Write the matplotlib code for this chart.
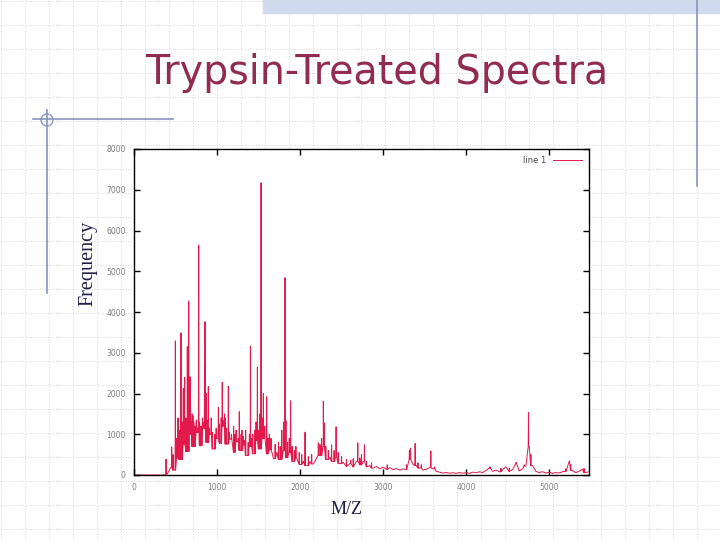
import numpy as np
import matplotlib
matplotlib.use("Agg")
import matplotlib.pyplot as plt
from matplotlib.patches import Rectangle, Circle

mz_step = 40
baseline_counts = [
    0, 0, 0, 0, 0, 0, 0, 0, 0, 0,
    20, 180, 120, 420, 380, 760, 580, 1000, 700, 1050,
    720, 1150, 800, 1000, 640, 900, 780, 1200, 760, 880,
    560, 820, 600, 740, 480, 700, 520, 850, 640, 900,
    520, 620, 400, 560, 380, 600, 430, 560, 330, 420,
    260, 340, 230, 330, 270, 420, 480, 700, 380, 440,
    330, 450, 280, 310, 210, 280, 200, 340, 250, 330,
    200, 230, 170, 210, 150, 190, 140, 180, 130, 160,
    120, 150, 130, 380, 260, 230, 170, 120, 140, 180,
    150, 90, 70, 50, 60, 45, 55, 40, 60, 45,
    55, 40, 70, 55, 80, 60, 110, 170, 90, 120,
    80, 130, 200, 90, 130, 290, 100, 150, 220, 700,
    230, 90, 60, 80, 50, 70, 40, 60, 50, 80,
    90, 330, 110, 60, 90, 140, 60, 80,
]
peak_mz = [386, 454, 498, 530, 566, 594, 610, 642, 659, 675, 700, 720,
           779, 800, 850, 855, 870, 895, 930, 1016, 1063, 1100, 1136, 1200,
           1268, 1300, 1345, 1402, 1430, 1486, 1530, 1558, 1598, 1650, 1780,
           1800, 1819, 1830, 1886, 1950, 2060, 2220, 2280, 2290, 2380, 2434,
           2610, 2695, 2775, 3317, 3330, 3386, 3575, 4289, 4602, 4751, 5244]
peak_counts = [390, 690, 3290, 1400, 3490, 2125, 2400, 3150, 4270, 2410, 1500, 1300,
               5640, 1200, 2700, 3760, 2000, 2170, 1400, 1660, 2280, 1400, 2180, 1200,
               1555, 1100, 1100, 3165, 1000, 2650, 7170, 2000, 1920, 900, 1100,
               1300, 4840, 1330, 1820, 700, 1050, 790, 1815, 1280, 740, 1185,
               370, 790, 740, 610, 660, 775, 590, 200, 310, 1530, 345]
# small spikes that make up the noisy band
minor_mz = [470, 515, 545, 580, 625, 665, 690, 710, 735, 750, 765, 790, 815, 825,
            840, 880, 910, 945, 975, 990, 1030, 1050, 1075, 1090, 1115, 1150, 1175,
            1215, 1230, 1255, 1290, 1315, 1330, 1375, 1390, 1415, 1455, 1470, 1500,
            1515, 1545, 1575, 1615, 1630, 1700, 1740, 1760, 1850, 1870, 1905, 1930,
            1990, 2020, 2100, 2140, 2240, 2260, 2310, 2340, 2410, 2460, 2500, 2560,
            2640, 2720, 2740, 2800, 2860, 3050, 3280, 3420, 3460, 3620, 4420, 4520,
            4700, 4780, 5200, 5260, 5420]
minor_counts = [500, 900, 1100, 1300, 1400, 1500, 1300, 1450, 1200, 1350, 1150, 1300,
                1200, 1400, 1300, 1350, 1150, 1050, 1000, 1150, 1250, 1400, 1350, 1500,
                1150, 1050, 1000, 1000, 1100, 900, 1000, 950, 850, 800, 1000, 900, 1100,
                1300, 1100, 1500, 1400, 1200, 900, 1000, 750, 800, 700, 800, 900, 700,
                600, 550, 500, 450, 500, 750, 900, 700, 600, 600, 550, 450, 380, 400,
                420, 500, 330, 300, 250, 250, 300, 250, 200, 160, 170, 250, 500, 150,
                250, 160]

baseline_mz = np.arange(len(baseline_counts)) * mz_step
points = list(zip(baseline_mz, baseline_counts))
for m, h in zip(peak_mz + minor_mz, peak_counts + minor_counts):
    foot = baseline_counts[int(round(m / mz_step))]
    points += [(m - 3, foot), (m, h), (m + 3, foot)]
points.sort()
mz = np.array([p[0] for p in points])
counts = np.array([p[1] for p in points])

fig = plt.figure(figsize=(7.2, 5.4), dpi=100)

# slide background in pixel coordinates
bg = fig.add_axes([0, 0, 1, 1])
bg.set_xlim(0, 720)
bg.set_ylim(540, 0)
bg.axis("off")
for gx in range(0, 721, 24):
    bg.plot([gx + 0.5, gx + 0.5], [0, 540], color="#dcdcdc", lw=0.8, ls=(0, (1, 1.5)))
for gy in range(0, 541, 24):
    bg.plot([0, 720], [gy + 0.5, gy + 0.5], color="#dcdcdc", lw=0.8, ls=(0, (1, 1.5)))
bg.add_patch(Rectangle((263, 0), 457, 13, color="#cfdaee"))
bg.plot([697, 697], [0, 186], color="#8795bd", lw=1.2)
bg.plot([33, 173], [119, 119], color="#8795bd", lw=1.2)
bg.plot([47, 47], [110, 293], color="#8795bd", lw=1.2)
bg.add_patch(Circle((47, 120), 6, fill=False, ec="#8795bd", lw=1))
bg.add_patch(Rectangle((72, 137), 528, 388, color="white"))
bg.text(377, 73, "Trypsin-Treated Spectra", ha="center", va="center",
        fontsize=28.5, color="#922b52", family="DejaVu Sans")
bg.text(88, 263, "Frequency", ha="center", va="center", rotation=90,
        fontsize=14.5, color="#1e1e46", family="Liberation Serif")
bg.text(347, 509, "M/Z", ha="center", va="center",
        fontsize=13, color="#1e1e46", family="Liberation Serif")

# the plot itself
ax = fig.add_axes([134 / 720, 65 / 540, 455 / 720, 326 / 540])
ax.plot(mz, counts, color="#e3184b", lw=0.7, label="line 1")
ax.set_xlim(0, 5480)
ax.set_ylim(0, 8000)
ax.set_xticks(range(0, 5001, 1000))
ax.set_yticks(range(0, 8001, 1000))
ax.tick_params(direction="in", top=True, right=True, length=4, width=1,
               labelsize=5.5, labelcolor="#808080", pad=6)
for s in ax.spines.values():
    s.set_linewidth(1)
ax.legend(loc="upper right", frameon=False, fontsize=6, markerfirst=False,
          handlelength=3.5, borderaxespad=0.4, labelcolor="#444444")

fig.savefig("out.png", dpi=100)
